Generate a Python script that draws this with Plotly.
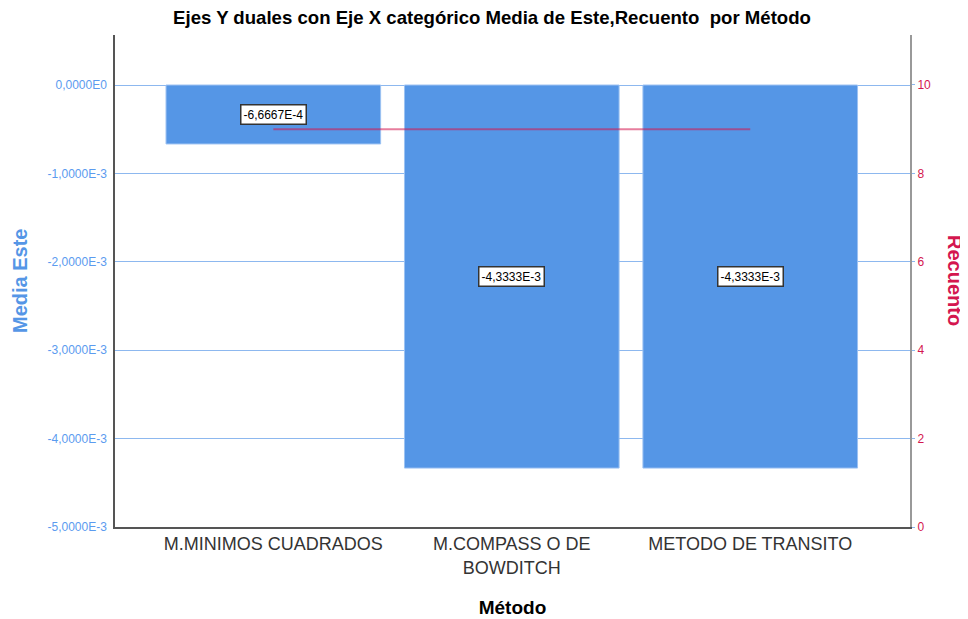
import plotly.graph_objects as go

categorias = ["M.MINIMOS CUADRADOS", "M.COMPASS O DE<br>BOWDITCH", "METODO DE TRANSITO"]
media_este = [-6.6667e-4, -4.3333e-3, -4.3333e-3]
recuento = [9, 9, 9]
etiquetas = ["-6,6667E-4", "-4,3333E-3", "-4,3333E-3"]
y1_ticks = [0, -1e-3, -2e-3, -3e-3, -4e-3, -5e-3]
y1_ticktext = ["0,0000E0", "-1,0000E-3", "-2,0000E-3", "-3,0000E-3", "-4,0000E-3", "-5,0000E-3"]
y2_ticks = [0, 2, 4, 6, 8, 10]

BLUE = "#5596e6"
CRIMSON = "#d4164f"
FONT = "Liberation Sans, Arial, sans-serif"

fig = go.Figure()
fig.add_trace(go.Bar(
    x=[0, 1, 2], y=media_este, width=0.9,
    marker=dict(color=BLUE, line=dict(color="#9cc2f2", width=1)),
    hoverinfo="y", showlegend=False,
))
fig.add_trace(go.Scatter(
    x=[0, 1, 2], y=recuento, yaxis="y2", mode="lines",
    line=dict(color=CRIMSON, width=2), opacity=0.55, showlegend=False,
))

for i, (v, t) in enumerate(zip(media_este, etiquetas)):
    fig.add_annotation(
        x=i, y=v / 2, xref="x", yref="y", text=t, showarrow=False,
        font=dict(family=FONT, size=12, color="black"),
        bgcolor="white", bordercolor="#333333", borderwidth=1.5, borderpad=2,
    )

fig.add_annotation(x=-0.1195, xref="paper", y=0.5, yref="paper", xanchor="center", yanchor="middle",
                   text="<b>Media Este</b>", textangle=-90, showarrow=False,
                   font=dict(family=FONT, size=20, color=BLUE))
fig.add_annotation(x=1.0566, xref="paper", y=0.5, yref="paper", xanchor="center", yanchor="middle",
                   text="<b>Recuento</b>", textangle=90, showarrow=False,
                   font=dict(family=FONT, size=20, color=CRIMSON))

fig.update_layout(
    width=968, height=619,
    margin=dict(l=107, r=66, t=27, b=100),
    paper_bgcolor="white", plot_bgcolor="white",
    title=dict(text="<b>Ejes Y duales con Eje X categórico Media de Este,Recuento  por Método</b>",
               x=0.5, xanchor="center", y=0.984, yanchor="middle",
               font=dict(family=FONT, size=18.6, color="black")),
    xaxis=dict(
        range=[-0.664, 2.67], tickvals=[0, 1, 2], ticktext=categorias,
        tickfont=dict(family="Liberation Sans Narrow, Arial Narrow, Liberation Sans, sans-serif", size=18, color="#333333"),
        showgrid=False, zeroline=False, showline=True, linecolor="#555555", linewidth=1.5,
        ticks="", title=dict(text="<b>Método</b>", font=dict(family=FONT, size=19, color="black"), standoff=24),
    ),
    yaxis=dict(
        range=[-5e-3, 0.566e-3], tickvals=y1_ticks, ticktext=y1_ticktext,
        tickfont=dict(family=FONT, size=12, color="#5b9bef"), ticklabelstandoff=4,
        showgrid=True, gridcolor="#8db8ef", gridwidth=1.2, zeroline=False,
        showline=True, linecolor="#555555", linewidth=1.5, ticks="",
    ),
    yaxis2=dict(
        range=[0, 11.13], tickvals=y2_ticks, overlaying="y", side="right",
        tickfont=dict(family=FONT, size=12, color=CRIMSON),
        showgrid=False, zeroline=False, showline=True, linecolor="#999999", linewidth=2,
        ticks="outside", ticklen=3, tickcolor="#8db8ef",
    ),
)

fig.write_html("out.html")
